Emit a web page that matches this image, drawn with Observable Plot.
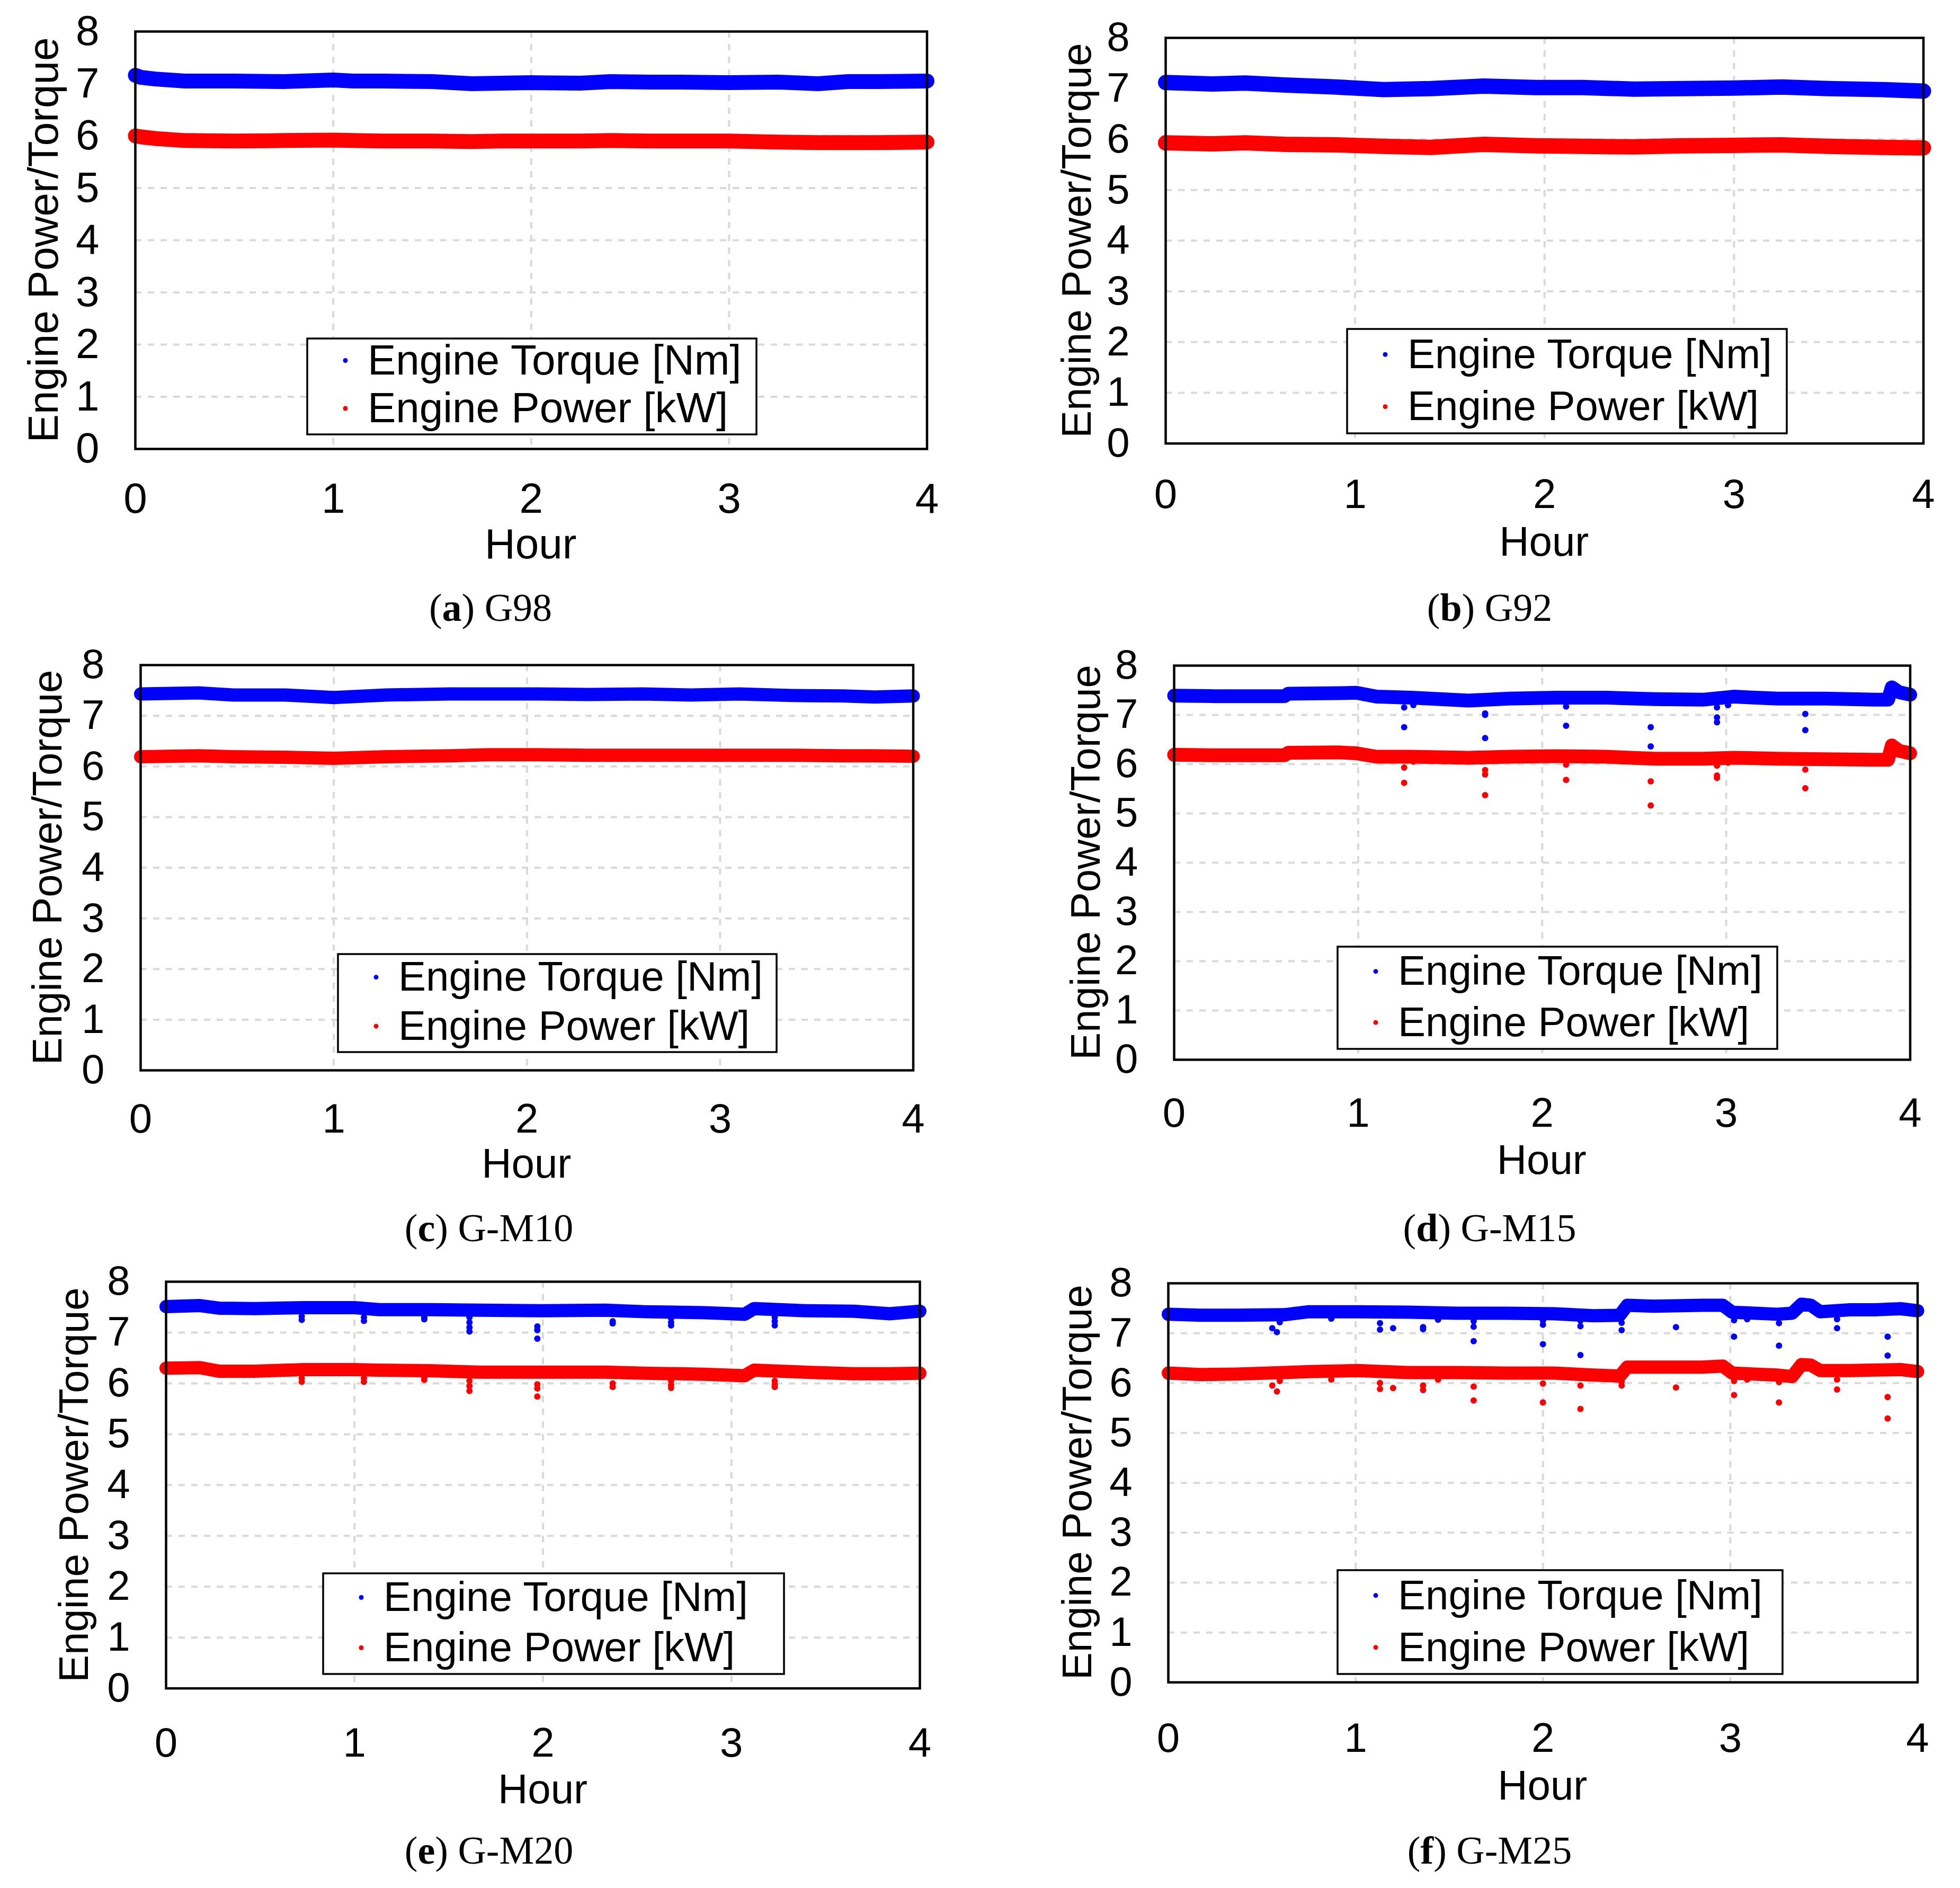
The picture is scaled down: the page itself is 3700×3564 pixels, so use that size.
<!DOCTYPE html>
<html>
<head>
<meta charset="utf-8">
<script src="https://cdn.jsdelivr.net/npm/d3@7"></script>
<script src="https://cdn.jsdelivr.net/npm/@observablehq/plot@0.6"></script>
<style>
html, body { margin: 0; padding: 0; background: #ffffff; }
#page { position: relative; width: 3700px; height: 3564px; overflow: hidden; background: #ffffff; }
.panel { position: absolute; }
#overlay { position: absolute; left: 0; top: 0; pointer-events: none; }
</style>
</head>
<body>
<div id="page"></div>
<script>
// ---------------- data ----------------
const xTicks = [0, 1, 2, 3, 4];
const yTicks = [0, 1, 2, 3, 4, 5, 6, 7, 8];
const legendLabels = ["Engine Torque [Nm]", "Engine Power [kW]"];
const captionLetters = ["a", "b", "c", "d", "e", "f"];
const captionFuels = ["G98", "G92", "G-M10", "G-M15", "G-M20", "G-M25"];

// (a) G98
const hoursA  = [0, 0.03, 0.1, 0.25, 0.5, 0.75, 1, 1.1, 1.25, 1.5, 1.7, 1.85, 2, 2.25, 2.4, 2.6, 2.75, 3, 3.25, 3.45, 3.6, 3.75, 4];
const torqueA = [7.16, 7.12, 7.09, 7.05, 7.05, 7.04, 7.07, 7.05, 7.05, 7.04, 7.00, 7.01, 7.02, 7.01, 7.04, 7.03, 7.03, 7.02, 7.03, 7.00, 7.04, 7.04, 7.05];
const powerA  = [6.00, 5.98, 5.95, 5.91, 5.90, 5.91, 5.92, 5.91, 5.90, 5.90, 5.89, 5.90, 5.90, 5.90, 5.91, 5.90, 5.90, 5.90, 5.88, 5.87, 5.87, 5.87, 5.88];
const torqueDipsA = [];
const powerDipsA = [];

// (b) G92
const hoursB  = [0, 0.25, 0.42, 0.63, 0.9, 1.15, 1.4, 1.68, 1.95, 2.2, 2.47, 2.73, 3.0, 3.25, 3.5, 3.78, 4];
const torqueB = [7.12, 7.09, 7.11, 7.07, 7.03, 6.98, 7.00, 7.05, 7.02, 7.02, 6.99, 7.00, 7.01, 7.03, 7.00, 6.98, 6.95];
const powerB  = [5.93, 5.91, 5.93, 5.90, 5.89, 5.86, 5.84, 5.90, 5.87, 5.86, 5.85, 5.87, 5.88, 5.89, 5.86, 5.84, 5.83];
const torqueDipsB = [];
const powerDipsB = [];

// (c) G-M10
const hoursC  = [0, 0.3, 0.48, 0.75, 1.0, 1.27, 1.6, 1.8, 2.06, 2.32, 2.6, 2.85, 3.1, 3.37, 3.64, 3.8, 4];
const torqueC = [7.43, 7.45, 7.41, 7.41, 7.36, 7.41, 7.43, 7.43, 7.43, 7.42, 7.43, 7.41, 7.43, 7.40, 7.39, 7.37, 7.39];
const powerC  = [6.19, 6.21, 6.19, 6.18, 6.16, 6.19, 6.21, 6.23, 6.23, 6.22, 6.22, 6.22, 6.22, 6.22, 6.21, 6.21, 6.20];
const torqueDipsC = [];
const powerDipsC = [];

// (d) G-M15
const hoursD  = [0, 0.22, 0.49, 0.6, 0.62, 0.89, 0.99, 1.1, 1.29, 1.6, 1.82, 2.08, 2.35, 2.61, 2.88, 3.04, 3.28, 3.54, 3.81, 3.88, 3.9, 3.94, 4];
const torqueD = [7.39, 7.38, 7.38, 7.38, 7.43, 7.44, 7.45, 7.37, 7.35, 7.29, 7.33, 7.35, 7.35, 7.32, 7.31, 7.37, 7.33, 7.33, 7.31, 7.31, 7.56, 7.46, 7.41];
const powerD  = [6.19, 6.18, 6.18, 6.18, 6.23, 6.24, 6.22, 6.15, 6.15, 6.13, 6.15, 6.16, 6.15, 6.11, 6.11, 6.13, 6.11, 6.10, 6.09, 6.09, 6.38, 6.27, 6.22];
const torqueDipsD = [[1.25, 7.15], [1.25, 6.75], [1.30, 7.20], [1.69, 7.03], [1.69, 7.00], [1.69, 6.53], [2.13, 7.17], [2.13, 6.78],
                     [2.59, 6.75], [2.59, 6.36], [2.95, 7.15], [2.95, 6.95], [2.95, 6.85], [3.01, 7.20], [3.43, 7.02], [3.43, 6.69]];
const powerDipsD  = [[1.25, 5.93], [1.25, 5.62], [1.30, 6.05], [1.69, 5.88], [1.69, 5.79], [1.69, 5.37], [2.13, 5.99], [2.13, 5.68],
                     [2.59, 5.65], [2.59, 5.16], [2.95, 5.97], [2.95, 5.77], [2.95, 5.72], [3.01, 6.03], [3.43, 5.89], [3.43, 5.51]];

// (e) G-M20
const hoursE  = [0, 0.18, 0.28, 0.47, 0.73, 1.0, 1.13, 1.4, 1.66, 2.0, 2.33, 2.54, 2.86, 3.07, 3.12, 3.39, 3.65, 3.84, 4];
const torqueE = [7.51, 7.53, 7.48, 7.47, 7.49, 7.49, 7.45, 7.45, 7.44, 7.43, 7.44, 7.41, 7.39, 7.36, 7.47, 7.43, 7.42, 7.37, 7.42];
const powerE  = [6.30, 6.31, 6.24, 6.24, 6.27, 6.27, 6.26, 6.25, 6.22, 6.22, 6.22, 6.20, 6.18, 6.15, 6.26, 6.22, 6.19, 6.19, 6.20];
const torqueDipsE = [[0.72, 7.32], [0.72, 7.25], [1.05, 7.30], [1.05, 7.23], [1.37, 7.30], [1.37, 7.26], [1.61, 7.30], [1.61, 7.20],
                     [1.61, 7.10], [1.61, 7.02], [1.97, 7.12], [1.97, 7.05], [1.97, 6.88], [2.37, 7.22], [2.37, 7.18], [2.68, 7.28],
                     [2.68, 7.20], [2.68, 7.14], [3.23, 7.30], [3.23, 7.22], [3.23, 7.14]];
const powerDipsE  = [[0.72, 6.10], [0.72, 6.03], [1.05, 6.10], [1.05, 6.03], [1.37, 6.12], [1.37, 6.07], [1.61, 6.05], [1.61, 5.95],
                     [1.61, 5.85], [1.97, 5.98], [1.97, 5.90], [1.97, 5.74], [2.37, 6.00], [2.37, 5.93], [2.68, 6.05], [2.68, 5.97],
                     [2.68, 5.91], [3.23, 6.05], [3.23, 5.98], [3.23, 5.93]];

// (f) G-M25
const hoursF  = [0, 0.17, 0.36, 0.62, 0.75, 1.01, 1.28, 1.54, 1.8, 2.06, 2.27, 2.41, 2.45, 2.59, 2.85, 2.96, 3.01, 3.25, 3.33, 3.38, 3.43, 3.48, 3.64, 3.77, 3.91, 4];
const torqueF = [7.38, 7.36, 7.36, 7.37, 7.43, 7.43, 7.42, 7.40, 7.40, 7.39, 7.35, 7.36, 7.56, 7.54, 7.56, 7.56, 7.42, 7.38, 7.40, 7.58, 7.56, 7.43, 7.47, 7.47, 7.49, 7.45];
const powerF  = [6.20, 6.17, 6.18, 6.21, 6.23, 6.25, 6.21, 6.21, 6.20, 6.20, 6.16, 6.14, 6.32, 6.32, 6.32, 6.34, 6.20, 6.16, 6.13, 6.37, 6.36, 6.25, 6.25, 6.26, 6.27, 6.23];
const torqueDipsF = [[0.555, 7.10], [0.58, 7.02], [0.595, 7.22], [0.87, 7.29], [1.13, 7.20], [1.13, 7.07], [1.2, 7.10], [1.36, 7.12],
                     [1.36, 7.08], [1.44, 7.27], [1.63, 7.24], [1.63, 7.13], [1.63, 6.84], [2.0, 7.25], [2.0, 7.17], [2.0, 6.78],
                     [2.2, 7.25], [2.2, 7.14], [2.2, 6.56], [2.42, 7.21], [2.42, 7.06], [2.71, 7.12], [3.02, 7.26], [3.02, 6.93],
                     [3.09, 7.28], [3.26, 7.20], [3.26, 6.75], [3.57, 7.28], [3.57, 7.10], [3.84, 6.93], [3.84, 6.55]];
const powerDipsF  = [[0.555, 5.95], [0.58, 5.83], [0.595, 6.04], [0.87, 6.07], [1.13, 6.00], [1.13, 5.88], [1.2, 5.90], [1.36, 5.95],
                     [1.36, 5.86], [1.44, 6.07], [1.63, 5.93], [1.63, 5.65], [2.0, 5.99], [2.0, 5.61], [2.2, 5.95], [2.2, 5.48],
                     [2.42, 6.02], [2.42, 5.95], [2.71, 5.91], [3.02, 6.04], [3.02, 5.76], [3.09, 6.07], [3.26, 6.02], [3.26, 5.61],
                     [3.57, 6.07], [3.57, 5.87], [3.84, 5.72], [3.84, 5.29]];

// ---------------- layout (frame boxes in page pixels) ----------------
const layout = [
  {L: 254.5, R: 1749,   T: 59,     B: 847,  fs: 80, band: 28, xpad: 64, hourOff: 207, capX: 52,   cx: 926,  capY: 1172, leg: [580, 639, 848, 181]},
  {L: 2199.5, R: 3630,  T: 71.3,   B: 837,  fs: 78, band: 29, xpad: 66, hourOff: 212, capX: 2003, cx: 2812, capY: 1172, leg: [2543, 621, 830, 197]},
  {L: 264.5, R: 1723,   T: 1255,   B: 2020, fs: 78, band: 25, xpad: 62, hourOff: 203, capX: 60,   cx: 923,  capY: 2343, leg: [638, 1801, 828, 185]},
  {L: 2215.5, R: 3605,  T: 1256,   B: 2000, fs: 78, band: 26, xpad: 71, hourOff: 216, capX: 2020, cx: 2812, capY: 2343, leg: [2525, 1787, 830, 193]},
  {L: 313,   R: 1736,   T: 2419.3, B: 3187, fs: 78, band: 25, xpad: 73, hourOff: 217, capX: 110,  cx: 923,  capY: 3518, leg: [610, 2970, 870, 190]},
  {L: 2204.5, R: 3619,  T: 2421.7, B: 3175, fs: 78, band: 25, xpad: 76, hourOff: 222, capX: 2004, cx: 2812, capY: 3518, leg: [2525, 2964, 840, 196]}
];

const panelData = [
  [hoursA, torqueA, powerA, torqueDipsA, powerDipsA],
  [hoursB, torqueB, powerB, torqueDipsB, powerDipsB],
  [hoursC, torqueC, powerC, torqueDipsC, powerDipsC],
  [hoursD, torqueD, powerD, torqueDipsD, powerDipsD],
  [hoursE, torqueE, powerE, torqueDipsE, powerDipsE],
  [hoursF, torqueF, powerF, torqueDipsF, powerDipsF]
];

const BLUE = "#0000ff", RED = "#ff0000", GRID = "#d9d9d9";
const SANS = "'Liberation Sans', Arial, sans-serif";
const SERIF = "'Liberation Serif', 'Times New Roman', serif";

const page = document.getElementById("page");
const mL = 230, mR = 40, mT = 40, mB = 140;
const intFormat = d3.format("d");

function series(hours, values) { return hours.map((h, i) => ({hour: h, value: values[i]})); }
function dips(pairs) { return pairs.map(([h, v]) => ({hour: h, value: v})); }

layout.forEach((p, k) => {
  const [hours, torque, power, tDips, pDips] = panelData[k];
  const W = p.R - p.L, H = p.B - p.T;
  const gridStyle = {stroke: GRID, strokeOpacity: 1, strokeWidth: 4, strokeDasharray: "12,12"};
  const chart = Plot.plot({
    width: W + mL + mR,
    height: H + mT + mB,
    marginLeft: mL, marginRight: mR, marginTop: mT, marginBottom: mB,
    x: {domain: [0, 4], label: null},
    y: {domain: [0, 8], label: null},
    style: {fontFamily: SANS, fontSize: p.fs + "px", background: "transparent", overflow: "visible", maxWidth: "none", color: "black"},
    marks: [
      Plot.gridX([1, 2, 3], gridStyle),
      Plot.gridY([1, 2, 3, 4, 5, 6, 7], gridStyle),
      Plot.lineY(series(hours, power), {x: "hour", y: "value", stroke: RED, strokeWidth: p.band, strokeLinecap: "round", strokeLinejoin: "round"}),
      Plot.lineY(series(hours, torque), {x: "hour", y: "value", stroke: BLUE, strokeWidth: p.band, strokeLinecap: "round", strokeLinejoin: "round"}),
      Plot.dot(dips(tDips), {x: "hour", y: "value", r: 6, fill: BLUE, stroke: "none"}),
      Plot.dot(dips(pDips), {x: "hour", y: "value", r: 6, fill: RED, stroke: "none"}),
      Plot.frame({stroke: "black", strokeWidth: 4.5}),
      Plot.axisX(xTicks, {tickSize: 0, tickPadding: p.xpad, fontSize: p.fs, label: null, fill: "black", tickFormat: intFormat}),
      Plot.axisY(yTicks, {tickSize: 0, tickPadding: 68, fontSize: p.fs, label: null, fill: "black", tickFormat: intFormat})
    ]
  });
  const holder = document.createElement("div");
  holder.className = "panel";
  holder.style.left = (p.L - mL) + "px";
  holder.style.top = (p.T - mT) + "px";
  holder.appendChild(chart);
  page.appendChild(holder);
});

// ---------------- overlay: axis titles, legends, captions ----------------
const svg = d3.create("svg")
  .attr("id", "overlay")
  .attr("width", 3700).attr("height", 3564)
  .attr("viewBox", "0 0 3700 3564");

layout.forEach((p, k) => {
  const g = svg.append("g");
  const cyFrame = (p.T + p.B) / 2;
  // y axis title
  g.append("text")
    .attr("transform", `translate(${p.capX + 0.716 * p.fs},${cyFrame}) rotate(-90)`)
    .attr("text-anchor", "middle")
    .attr("font-family", SANS).attr("font-size", p.fs).attr("fill", "black")
    .text("Engine Power/Torque");
  // x axis title
  g.append("text")
    .attr("x", (p.L + p.R) / 2).attr("y", p.B + p.hourOff)
    .attr("text-anchor", "middle")
    .attr("font-family", SANS).attr("font-size", p.fs).attr("fill", "black")
    .text("Hour");
  // legend
  const [lx, ly, lw, lh] = p.leg;
  g.append("rect")
    .attr("x", lx).attr("y", ly).attr("width", lw).attr("height", lh)
    .attr("fill", "white").attr("stroke", "black").attr("stroke-width", 3.5);
  const rows = [0.375, 0.875];
  [BLUE, RED].forEach((c, i) => {
    const base = ly + rows[i] * lh;
    g.append("circle")
      .attr("cx", lx + 72).attr("cy", base - 0.33 * p.fs).attr("r", 4.5).attr("fill", c);
    g.append("text")
      .attr("x", lx + 114).attr("y", base)
      .attr("font-family", SANS).attr("font-size", p.fs).attr("fill", "black")
      .text(legendLabels[i]);
  });
  // caption
  const cap = g.append("text")
    .attr("x", p.cx).attr("y", p.capY)
    .attr("text-anchor", "middle")
    .attr("font-family", SERIF).attr("font-size", 74).attr("fill", "black");
  cap.append("tspan").text("(");
  cap.append("tspan").attr("font-weight", "bold").text(captionLetters[k]);
  cap.append("tspan").text(") " + captionFuels[k]);
});

page.appendChild(svg.node());
</script>
</body>
</html>
